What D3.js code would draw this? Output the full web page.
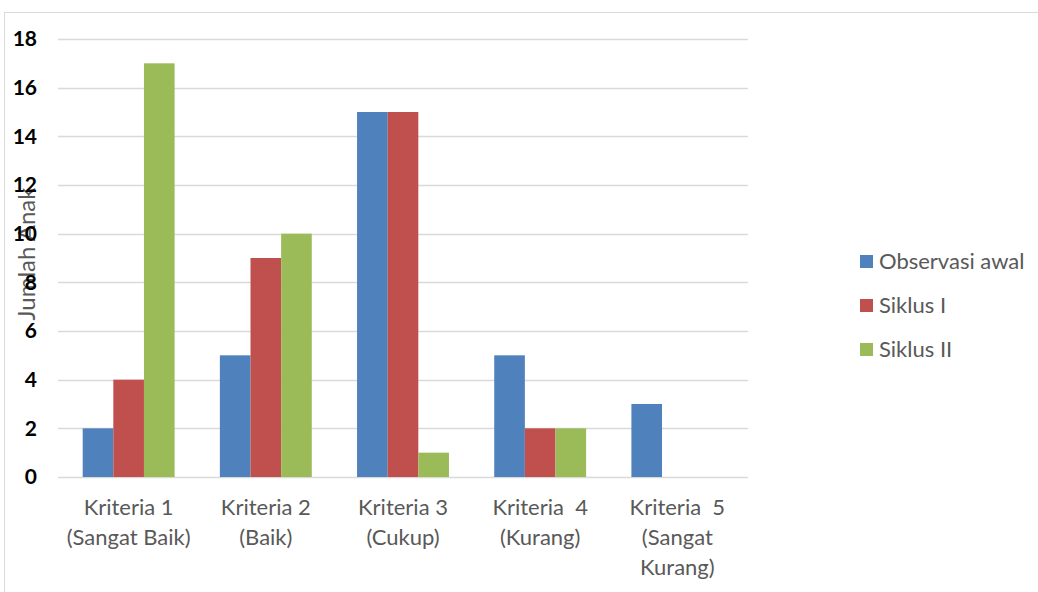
<!DOCTYPE html>
<html lang="id">
<head>
    <meta charset="UTF-8">
    <title>Jumlah Anak per Kriteria</title>
    <script src="https://cdnjs.cloudflare.com/ajax/libs/d3/7.8.5/d3.min.js"></script>
    <style>
        body { margin: 0; background: #fff; }
        svg { display: block; }
    </style>
</head>
<body>
    <svg id="chart" width="1038" height="592"></svg>
    <script>
        // data
        const categories = [
            ["Kriteria 1", "(Sangat Baik)"],
            ["Kriteria 2", "(Baik)"],
            ["Kriteria 3", "(Cukup)"],
            ["Kriteria  4", "(Kurang)"],
            ["Kriteria  5", "(Sangat", "Kurang)"]
        ];
        const seriesNames = ["Observasi awal", "Siklus I", "Siklus II"];
        const observasiAwal = [2, 5, 15, 5, 3];
        const siklus1 = [4, 9, 15, 2, 0];
        const siklus2 = [17, 10, 1, 2, 0];
        const yTicks = [0, 2, 4, 6, 8, 10, 12, 14, 16, 18];
        const colors = ["#4F81BD", "#C0504D", "#9BBB59"];

        const series = [observasiAwal, siklus1, siklus2];

        const svg = d3.select("#chart");
        const font = "Lato, 'Open Sans', sans-serif";

        // chart area border
        svg.append("rect")
           .attr("x", 4.5).attr("y", 12.5)
           .attr("width", 1060).attr("height", 600)
           .attr("fill", "#fff")
           .attr("stroke", "#d9d9d9");

        const plot = { left: 58, right: 748, top: 39, bottom: 477 };

        const x = d3.scaleBand()
            .domain(d3.range(categories.length))
            .range([plot.left, plot.right])
            .paddingInner(0.33)
            .paddingOuter(0.18);

        const xSub = d3.scaleBand()
            .domain(d3.range(series.length))
            .range([0, x.bandwidth()]);

        const y = d3.scaleLinear().domain([0, 18]).range([plot.bottom, plot.top]);

        // gridlines
        svg.append("g")
           .selectAll("line")
           .data(yTicks)
           .enter().append("line")
           .attr("x1", plot.left).attr("x2", plot.right)
           .attr("y1", d => Math.round(y(d)) + 0.5)
           .attr("y2", d => Math.round(y(d)) + 0.5)
           .attr("stroke", "#d9d9d9")
           .attr("stroke-width", 1.5);

        // y axis title (drawn under the tick labels, like the original)
        svg.append("text")
           .attr("transform", "translate(35,254) rotate(-90)")
           .attr("text-anchor", "middle")
           .attr("font-family", font)
           .attr("font-size", 24)
           .attr("fill", "#595959")
           .text("Jumlah Anak");

        // y axis labels
        const yAxis = d3.axisLeft(y).tickValues(yTicks).tickSize(0).tickPadding(0);
        const yg = svg.append("g")
           .attr("transform", `translate(37,0)`)
           .call(yAxis);
        yg.select(".domain").remove();
        yg.selectAll("text")
          .attr("font-family", font)
          .attr("font-size", 21)
          .attr("font-weight", "bold")
          .attr("fill", "#000");

        // bars
        const groups = svg.append("g")
           .selectAll("g")
           .data(categories.map((c, i) => i))
           .enter().append("g")
           .attr("transform", i => `translate(${x(i)},0)`);

        groups.selectAll("rect")
           .data(i => series.map((s, j) => ({ j, v: s[i] })))
           .enter().append("rect")
           .attr("x", d => xSub(d.j))
           .attr("y", d => y(d.v))
           .attr("width", xSub.bandwidth())
           .attr("height", d => y(0) - y(d.v))
           .attr("fill", d => colors[d.j]);

        // x labels
        const xl = svg.append("g")
           .selectAll("text")
           .data(categories)
           .enter().append("text")
           .attr("x", (d, i) => x(i) + x.bandwidth() / 2)
           .attr("y", 515)
           .attr("text-anchor", "middle")
           .attr("font-family", font)
           .attr("font-size", 22)
           .attr("fill", "#595959");
        xl.selectAll("tspan")
           .data(d => d)
           .enter().append("tspan")
           .attr("x", function () { return d3.select(this.parentNode).attr("x"); })
           .attr("dy", (d, k) => k === 0 ? 0 : 30)
           .attr("xml:space", "preserve")
           .style("white-space", "pre")
           .text(d => d);

        // legend
        const legend = svg.append("g")
           .selectAll("g")
           .data(seriesNames)
           .enter().append("g")
           .attr("transform", (d, i) => `translate(860,${255 + i * 44})`);
        legend.append("rect")
           .attr("width", 13).attr("height", 13)
           .attr("fill", (d, i) => colors[i]);
        legend.append("text")
           .attr("x", 19).attr("y", 14)
           .attr("font-family", font)
           .attr("font-size", 22)
           .attr("fill", "#595959")
           .text(d => d);
    </script>
</body>
</html>
